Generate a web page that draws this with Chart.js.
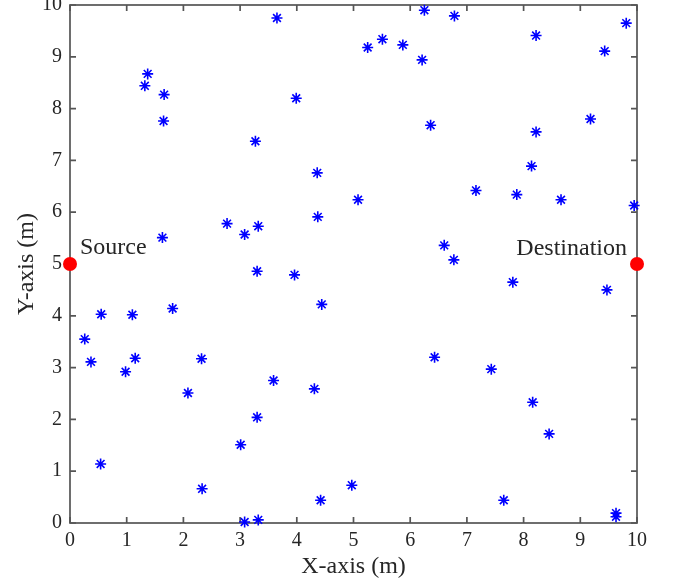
<!DOCTYPE html>
<html>
<head>
<meta charset="utf-8">
<script src="https://cdn.jsdelivr.net/npm/chart.js@4.4.1/dist/chart.umd.min.js"></script>
<style>
  html, body { margin: 0; padding: 0; background: #fff; overflow: hidden; }
  #wrap { position: relative; width: 676px; height: 586px; overflow: hidden; }
  #plot { position: absolute; left: 0; top: -20px; }
</style>
</head>
<body>
<div id="wrap"><canvas id="plot" width="676" height="606"></canvas></div>
<script>
// sensor node positions (m)
const nodeX = [3.65, 1.37, 1.32, 1.66, 3.99, 1.65, 3.27, 4.36, 5.08, 4.37, 2.77, 3.32, 3.08, 1.63,
  6.25, 6.78, 9.81, 8.22, 5.51, 5.25, 5.87, 6.21, 9.43, 6.36, 9.18, 8.22, 8.14, 7.16, 7.88, 8.66,
  9.95, 6.60, 6.77, 3.30, 3.96, 4.44, 1.81, 0.55, 1.10, 0.26, 0.37, 1.15, 2.32, 0.98, 3.59, 4.31,
  2.08, 3.30, 3.01, 0.54, 2.33, 4.97, 4.42, 3.08, 3.32, 7.81, 9.47, 6.43, 7.43, 8.16, 8.45, 7.65,
  9.63, 9.63];
const nodeY = [9.75, 8.67, 8.44, 8.27, 8.20, 7.76, 7.37, 6.76, 6.24, 5.91, 5.78, 5.73, 5.57, 5.51,
  9.90, 9.79, 9.65, 9.41, 9.34, 9.18, 9.23, 8.94, 9.11, 7.68, 7.80, 7.55, 6.89, 6.42, 6.34, 6.24,
  6.13, 5.36, 5.08, 4.86, 4.79, 4.22, 4.14, 4.03, 4.02, 3.55, 3.11, 3.18, 3.17, 2.92, 2.75, 2.59,
  2.51, 2.04, 1.51, 1.14, 0.66, 0.73, 0.44, 0.02, 0.06, 4.65, 4.50, 3.20, 2.97, 2.33, 1.72, 0.44,
  0.19, 0.12];

// source and destination
const endpointNames = ['Source', 'Destination'];
const endpointX = [0, 10];
const endpointY = [5, 5];

const axisTicks = [0, 1, 2, 3, 4, 5, 6, 7, 8, 9, 10];

const serif = 'Liberation Serif, Times New Roman, serif';
const inkColor = '#262626';
const frameColor = '#555555';

function toPoints(xs, ys) {
  return xs.map((x, i) => ({ x: x, y: ys[i] }));
}

// box frame with inward ticks on all four sides
const framePlugin = {
  id: 'frame',
  beforeDatasetsDraw(chart) {
    const { ctx, chartArea: a, scales } = chart;
    const len = 6;
    ctx.save();
    ctx.strokeStyle = frameColor;
    ctx.lineWidth = 1.7;
    ctx.strokeRect(a.left, a.top, a.right - a.left, a.bottom - a.top);
    ctx.beginPath();
    axisTicks.forEach(v => {
      const px = scales.x.getPixelForValue(v);
      ctx.moveTo(px, a.bottom); ctx.lineTo(px, a.bottom - len);
      ctx.moveTo(px, a.top); ctx.lineTo(px, a.top + len);
      const py = scales.y.getPixelForValue(v);
      ctx.moveTo(a.left, py); ctx.lineTo(a.left + len, py);
      ctx.moveTo(a.right, py); ctx.lineTo(a.right - len, py);
    });
    ctx.stroke();
    ctx.restore();
  }
};

// names next to the source and destination points
const endpointLabels = {
  id: 'endpointLabels',
  afterDatasetsDraw(chart) {
    const { ctx, scales } = chart;
    ctx.save();
    ctx.font = '24px ' + serif;
    ctx.fillStyle = inkColor;
    ctx.textBaseline = 'alphabetic';
    endpointNames.forEach((name, i) => {
      const px = scales.x.getPixelForValue(endpointX[i]);
      const py = scales.y.getPixelForValue(endpointY[i]);
      if (i === 0) {
        ctx.textAlign = 'left';
        ctx.fillText(name, px + 10, py - 10);
      } else {
        ctx.textAlign = 'right';
        ctx.fillText(name, px - 10, py - 9);
      }
    });
    ctx.restore();
  }
};

function drawNetworkChart() {
  const ctx = document.getElementById('plot').getContext('2d');
  new Chart(ctx, {
    type: 'scatter',
    data: {
      datasets: [{
        label: 'Nodes',
        data: toPoints(nodeX, nodeY),
        pointStyle: 'star',
        pointRadius: 5.5,
        pointBorderWidth: 1.6,
        borderColor: '#0000ff',
        backgroundColor: '#0000ff',
        clip: false
      }, {
        label: 'Endpoints',
        data: toPoints(endpointX, endpointY),
        pointStyle: 'circle',
        pointRadius: 7,
        pointBorderWidth: 0,
        borderColor: '#ff0000',
        backgroundColor: '#ff0000',
        clip: false
      }]
    },
    options: {
      responsive: false,
      animation: false,
      devicePixelRatio: 1,
      layout: { padding: { left: 0, right: 39, top: 25, bottom: 0 } },
      plugins: { legend: { display: false }, tooltip: { enabled: false } },
      scales: {
        x: {
          type: 'linear',
          min: 0,
          max: 10,
          afterBuildTicks: s => { s.ticks = axisTicks.map(v => ({ value: v })); },
          afterFit: s => { s.height = 63; },
          grid: { display: false, drawTicks: false },
          border: { display: false },
          ticks: { padding: 6, color: inkColor, font: { family: serif, size: 20 }, maxRotation: 0 },
          title: { display: true, text: 'X-axis (m)', color: inkColor,
                   font: { family: serif, size: 24 }, padding: { top: 0, bottom: 5 } }
        },
        y: {
          type: 'linear',
          min: 0,
          max: 10,
          afterBuildTicks: s => { s.ticks = axisTicks.map(v => ({ value: v })); },
          afterFit: s => { s.width = 70; },
          grid: { display: false, drawTicks: false },
          border: { display: false },
          ticks: { padding: 8, color: inkColor, font: { family: serif, size: 20 } },
          title: { display: true, text: 'Y-axis (m)', color: inkColor,
                   font: { family: serif, size: 24 }, padding: { top: 12, bottom: 0 } }
        }
      }
    },
    plugins: [framePlugin, endpointLabels]
  });
}

document.addEventListener('DOMContentLoaded', drawNetworkChart);
</script>
</body>
</html>
